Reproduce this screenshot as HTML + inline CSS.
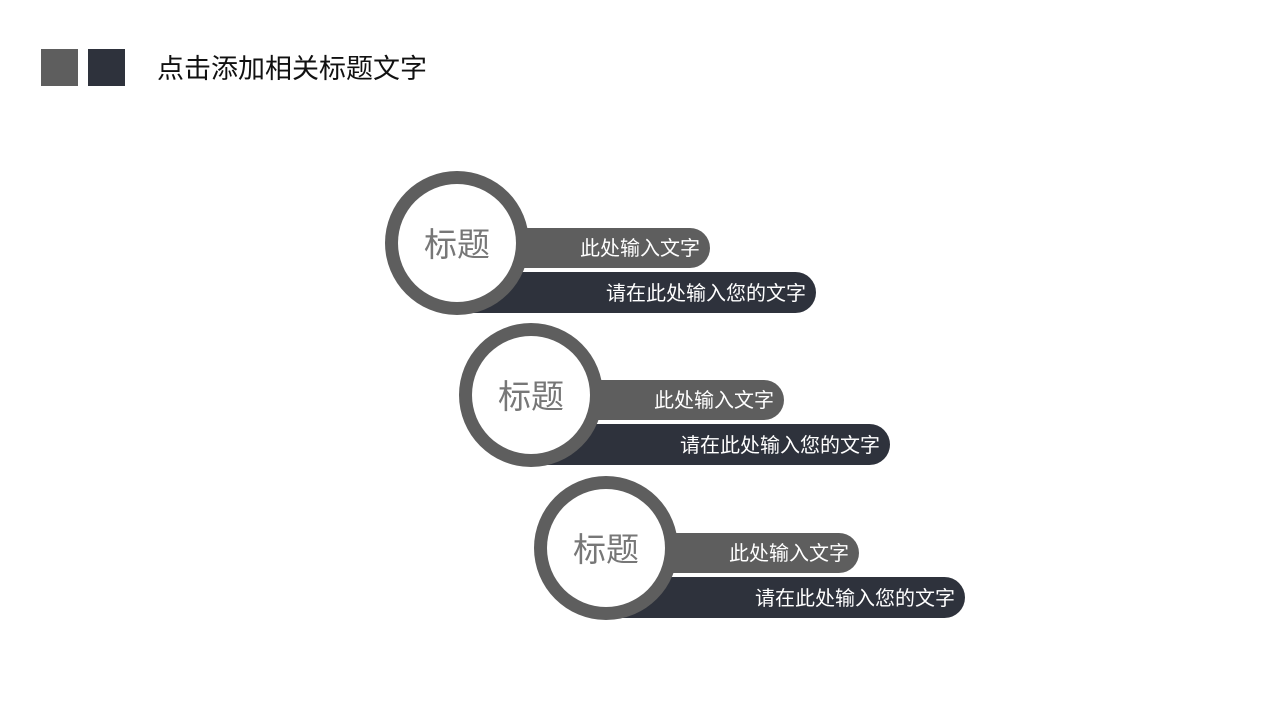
<!DOCTYPE html>
<html><head><meta charset="utf-8"><style>
body{margin:0;width:1280px;height:720px;background:#fff;position:relative;overflow:hidden;font-family:"Liberation Sans","Noto Sans CJK SC",sans-serif}
.a{position:absolute}
.sq{width:37px;height:37px;top:49px}
.g{background:#5e5e5e}.d{background:#2e323c}
.bar{position:absolute;color:#fff;text-align:right;box-sizing:border-box;border-radius:0 21px 21px 0;font-size:20px;padding-top:3px}
.c{position:absolute;width:144px;height:144px;border-radius:50%;background:#5e5e5e}
.c div{position:absolute;left:13px;top:13px;width:118px;height:118px;border-radius:50%;background:#fff;color:#777;font-size:33px;line-height:122px;text-align:center}
</style></head><body>
<div class="a sq g" style="left:41px"></div>
<div class="a sq d" style="left:88px"></div>
<div class="a" style="left:157px;top:53px;font-size:27px;color:#111;line-height:32px">点击添加相关标题文字</div>

<div class="a" style="left:385px;top:171px">
 <div class="bar d" style="left:85px;top:101px;width:346px;height:41px;line-height:38px;padding-right:10px">请在此处输入您的文字</div>
 <div class="bar g" style="left:135px;top:57px;width:190px;height:40px;line-height:37px;padding-right:10px">此处输入文字</div>
 <div class="c"><div>标题</div></div>
</div>
<div class="a" style="left:459px;top:323px">
 <div class="bar d" style="left:85px;top:101px;width:346px;height:41px;line-height:38px;padding-right:10px">请在此处输入您的文字</div>
 <div class="bar g" style="left:135px;top:57px;width:190px;height:40px;line-height:37px;padding-right:10px">此处输入文字</div>
 <div class="c"><div>标题</div></div>
</div>
<div class="a" style="left:534px;top:476px">
 <div class="bar d" style="left:85px;top:101px;width:346px;height:41px;line-height:38px;padding-right:10px">请在此处输入您的文字</div>
 <div class="bar g" style="left:135px;top:57px;width:190px;height:40px;line-height:37px;padding-right:10px">此处输入文字</div>
 <div class="c"><div>标题</div></div>
</div>
</body></html>
